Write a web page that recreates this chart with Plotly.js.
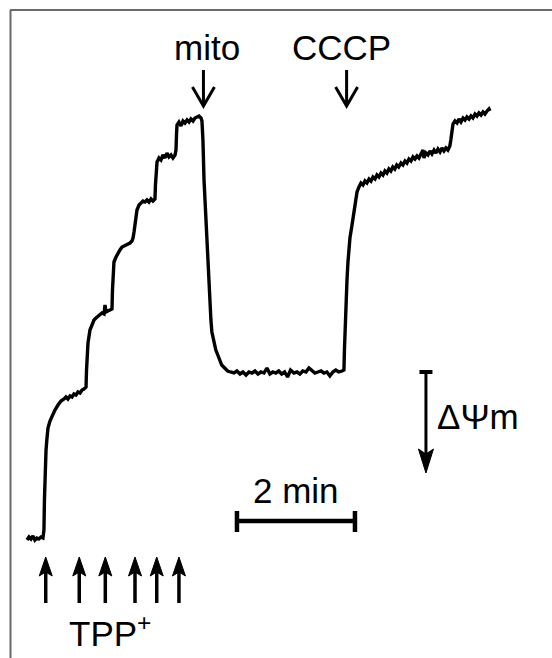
<!DOCTYPE html>
<html>
<head>
<meta charset="utf-8">
<script src="https://cdn.plot.ly/plotly-3.0.1.min.js"></script>
<style>
  html, body { margin: 0; padding: 0; background: #ffffff; }
  #chart { width: 552px; height: 658px; }
</style>
</head>
<body>
<div id="chart"></div>
<script>
// Time in seconds, signal in arbitrary electrode units (TPP+ in medium, up = more)
// Phase 1: baseline and six TPP+ additions
const tppT = [-3,-1,1,3,5,7,9,11.2,13.2,
  14.2,14.7,15.3,16.3,17.3,18.3,20.3,22.4,25.4,28.5,31.5,34.6,36.6,38.6,40.7,42.7,44.7,46.8,48.8,50.9,52.9,54.9,57,
  57.5,58,59,61,63,65.1,67.1,69.2,71.2,73.2,75.3,76.3,77.3,79.3,81.4,83.4,
  83.9,84.4,85.4,87.5,89.5,91.5,93.6,95.6,97.6,99.7,101.7,103.7,104.8,
  105.8,106.8,107.8,108.8,110.9,112.9,114.9,117,119,121,123.1,125.1,127.1,
  127.6,128.1,129.2,131.2,133.2,135.3,137.3,139.3,141.4,143.4,145.4,147.5,148.5,
  149,149.5,151.5,153.6,155.6,157.6,159.7,161.7,163.7,165.8,167.8,169.8,171.9,173.9,174.9];
const tppS = [118,121,119,122,118,120,119,121,120,
  128,158,188,208,220,230,237,242,248,253,257,259,261,259,262,261,264,263,266,265,268,269,271,
  288,308,315,328,334,338,340,342,343,345,344,353,346,347,348,349,
  368,388,396,401,405,408,411,412,413,414,415,417,420,
  426,433,442,448,453,455,457,456,458,456,459,457,459,
  473,488,496,500,498,503,500,505,501,503,500,503,508,
  523,533,536,532,537,535,538,536,539,537,540,541,542,540,537];

// Phase 2: uptake after mitochondria addition
const mitoT = [175.9,176.4,177,178,179,180,181,182,183,184,185,187,189,191,193,195,197,199,201,204,
  207.5,210.5,213.6,216.6,219.7,222.7,225.8,228.8,231.9,234.9,238,241,244,247,250,253,256,259,262,265,
  268.5,271.5,274.5,277.5,280.7,283.7,286.8,289.8,292.9,296,299,302,305,308,311,314,317.3,319.3];
const mitoS = [518,493,478,458,438,413,390,368,353,338,326,316,308,303,298,293,291,289,287,286,
  285,287,284,286,283,286,285,287,284,286,285,290,284,286,285,287,284,286,281,288,
  285,286,284,287,286,290,287,285,286,287,285,286,282,286,288,286,287,288];

// Phase 3: release after CCCP addition
const cccpT = [319.8,320.4,321.4,322.4,323.4,324.4,325.4,327.5,329.5,331.5,332.6,334.6,336.6,
  338.7,340.7,342.7,344.8,346.8,348.8,350.9,352.9,354.9,357,359,361,363,365,367,369,371,373,375,377.3,379.3,
  381.4,383.4,385.4,387.5,389.5,391.5,393.6,395.6,397.6,399.7,
  400.7,402.7,404.8,406.8,408.8,410.9,412.9,414.9,417,419,421,423,425,427,428,
  429.2,430.2,432.2,434.3,436.3,438.3,440.4,442.4,444.4,446.5,448.5,450.5,452.6,454.6,456.6,458.7,460.7,462.7,464.8,466.8,467.8];
const cccpS = [308,328,358,378,396,410,420,433,446,458,466,471,475,
  473,477,475,479,477,481,479,483,481,485,483,487,485,489,487,491,489,493,491,495,493,497,495,499,497,501,499,502,500,504,508,
  500,505,503,507,504,508,505,509,506,510,507,510,508,512,518,
  528,534,537,535,539,536,540,538,541,539,542,540,544,542,545,543,546,544,547,549,547];

// Additions
const tppAddTimes = [16, 50.1, 76.6, 106.8, 128.9, 151.5];
const eventNames = ['mito', 'CCCP'];
const eventTimes = [176.4, 322];
const eventLabelTimes = [180, 316.8];
const scaleBarStart = 210.5;   // s
const scaleBarLength = 120;    // s  (2 min)
const dPsiX = 402.7;

const FONT = 'Liberation Sans, Arial, Helvetica, sans-serif';
const K = 1.017; // seconds per pixel horizontally (for glyph widths)

const shapes = [];
const blk = '#000000';
function seg(x0, y0, x1, y1, w) {
  shapes.push({type: 'line', xref: 'x', yref: 'y', x0: x0, y0: y0, x1: x1, y1: y1,
    line: {color: blk, width: w}});
}
function path(p, filled, w) {
  shapes.push({type: 'path', xref: 'x', yref: 'y', path: p,
    fillcolor: filled ? blk : 'rgba(0,0,0,0)', line: {color: blk, width: w}});
}

// frame (top and left edges)
shapes.push({type: 'line', xref: 'paper', yref: 'paper', x0: 10 / 552, x1: 1, y0: 1 - 10 / 658, y1: 1 - 10 / 658,
  line: {color: '#6a6a6a', width: 2}});
shapes.push({type: 'line', xref: 'paper', yref: 'paper', x0: 10.5 / 552, x1: 10.5 / 552, y0: 0, y1: 1 - 10 / 658,
  line: {color: '#6a6a6a', width: 2}});

// event arrows (open heads)
eventTimes.forEach(t => {
  seg(t, 588, t, 554, 3);
  path(`M ${t - 11 * K},571 L ${t},552 L ${t + 11 * K},571`, false, 3);
});

// TPP+ arrows (filled heads)
tppAddTimes.forEach(t => {
  seg(t, 55, t, 88, 3.5);
  path(`M ${t},101 L ${t + 6.5 * K},82 L ${t},86 L ${t - 6.5 * K},82 Z`, true, 1);
});

// delta psi arrow
seg(dPsiX - 6.5 * K, 286, dPsiX + 6.5 * K, 286, 4);
seg(dPsiX, 286, dPsiX, 203, 3);
path(`M ${dPsiX},185 L ${dPsiX + 7.5 * K},209 L ${dPsiX},204 L ${dPsiX - 7.5 * K},209 Z`, true, 1);

// scale bar
seg(scaleBarStart, 137, scaleBarStart + scaleBarLength, 137, 4.5);
seg(scaleBarStart, 147, scaleBarStart, 126, 4.5);
seg(scaleBarStart + scaleBarLength, 147, scaleBarStart + scaleBarLength, 126, 4.5);

const tf = {family: FONT, size: 35, color: '#000'};
const annotations = [];
eventNames.forEach((n, i) => {
  annotations.push({x: eventLabelTimes[i], y: 611, xref: 'x', yref: 'y', text: n, showarrow: false,
    xanchor: 'center', yanchor: 'middle', font: tf});
});
annotations.push({x: (110 - 30) * K, y: 27, xref: 'x', yref: 'y', text: 'TPP<sup>+</sup>', showarrow: false,
  xanchor: 'center', yanchor: 'middle', font: tf});
annotations.push({x: scaleBarStart + scaleBarLength / 2, y: 168, xref: 'x', yref: 'y', text: '2 min', showarrow: false,
  xanchor: 'center', yanchor: 'middle', font: tf});
annotations.push({x: dPsiX + 9 * K, y: 242, xref: 'x', yref: 'y', text: 'ΔΨm', showarrow: false,
  xanchor: 'left', yanchor: 'middle', font: tf});

const trace = {
  x: tppT.concat(mitoT, cccpT),
  y: tppS.concat(mitoS, cccpS),
  type: 'scatter', mode: 'lines',
  line: {color: '#000', width: 3.4},
  hoverinfo: 'skip'
};

const layout = {
  width: 552, height: 658,
  margin: {l: 0, r: 0, t: 0, b: 0, pad: 0},
  paper_bgcolor: '#ffffff', plot_bgcolor: '#ffffff',
  showlegend: false,
  xaxis: {range: [-30.5, 530.9], visible: false, fixedrange: true},
  yaxis: {range: [0, 658], visible: false, fixedrange: true},
  shapes: shapes,
  annotations: annotations
};

Plotly.newPlot('chart', [trace], layout, {staticPlot: true, displayModeBar: false});
</script>
</body>
</html>
